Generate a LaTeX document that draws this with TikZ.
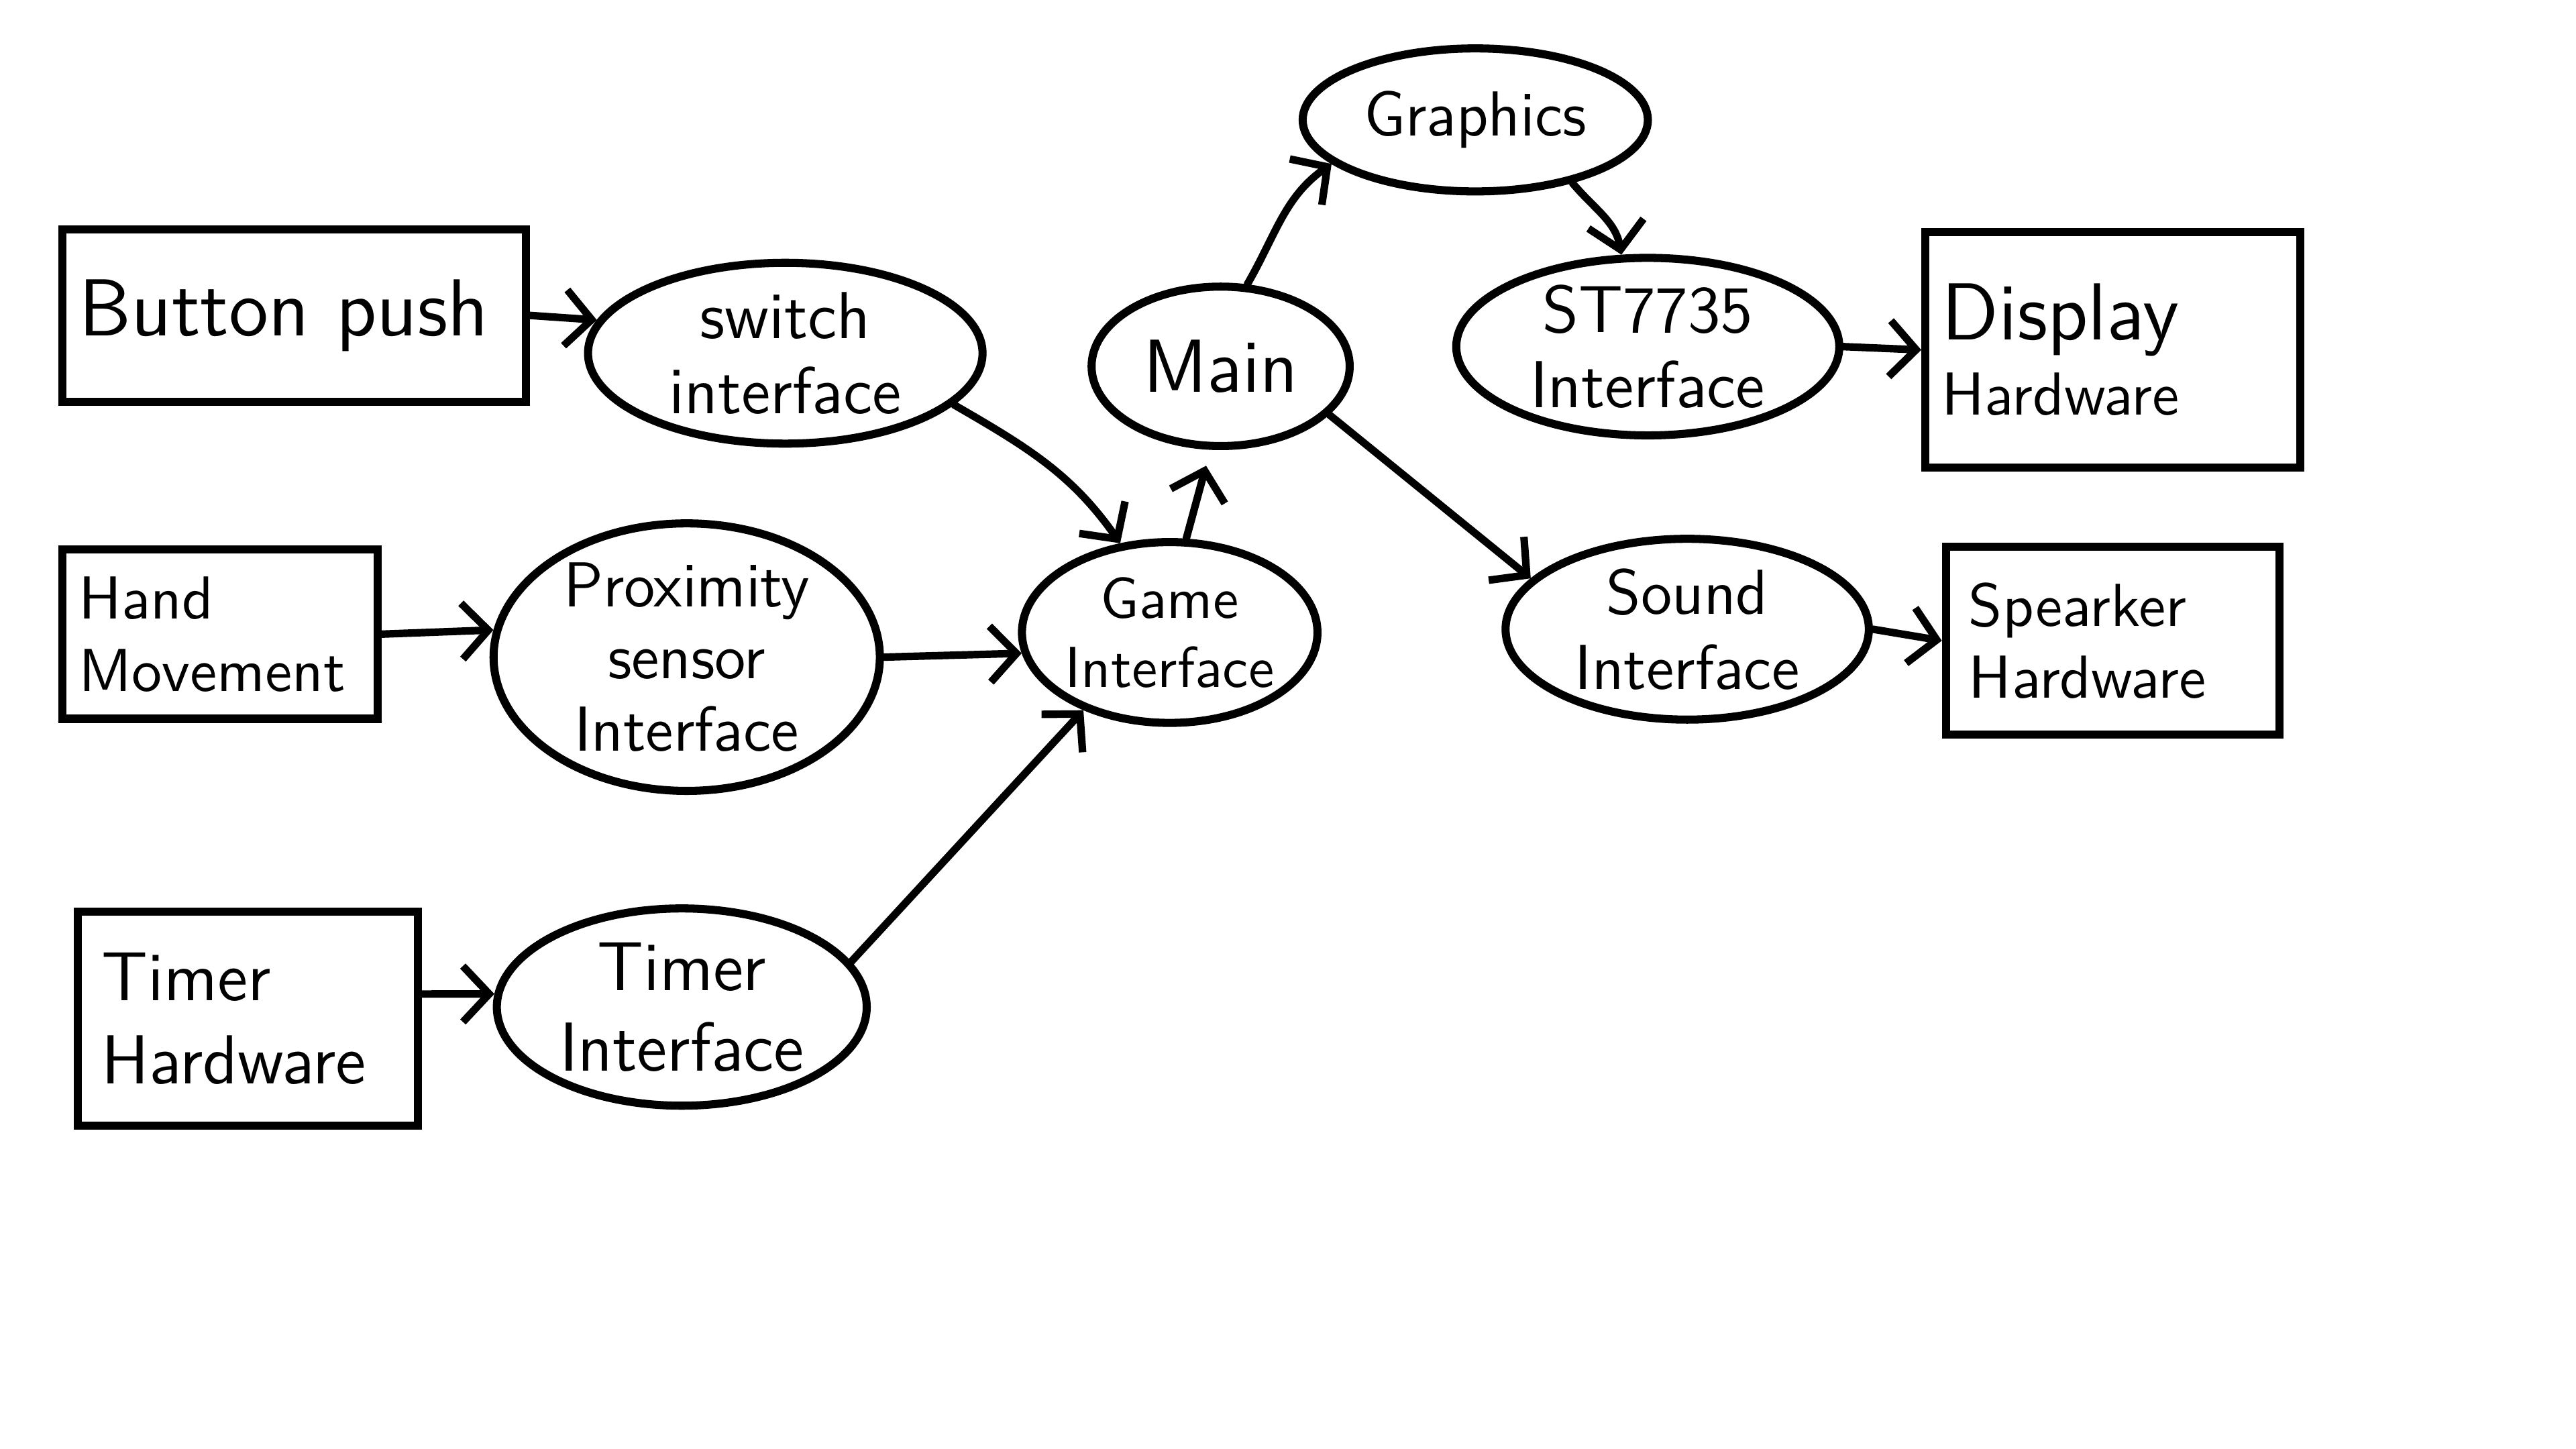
\documentclass[tikz,border=0pt]{standalone}
\usetikzlibrary{shapes.geometric,arrows.meta}
\begin{document}
\begin{tikzpicture}[x=0.01cm,y=-0.01cm,
  every node/.style={font=\sffamily, align=center},
  box/.style={draw, line width=1.4pt, rectangle, inner sep=0pt, align=left},
  oval/.style={draw, line width=1.4pt, ellipse, inner sep=0pt},
  conn/.style={line width=1.3pt, -{Straight Barb[length=1.6mm,width=3.4mm]}, line cap=round}
]
\useasboundingbox (0,0) rectangle (1568,882);
\fill[white] (0,0) rectangle (1568,882);

% left boxes
\node[box, minimum width=2.82cm, minimum height=1.05cm, text width=2.62cm, font=\sffamily\fontsize{14}{16}\selectfont] (btn) at (179,192) {Button push};
\node[box, minimum width=1.92cm, minimum height=1.03cm, text width=1.72cm, font=\sffamily\fontsize{10.5}{12.5}\selectfont] (hand) at (134,386) {Hand\\Movement};
\node[box, minimum width=2.07cm, minimum height=1.30cm, text width=1.78cm, font=\sffamily\fontsize{12}{14.5}\selectfont] (th) at (151,620) {Timer\\Hardware};

% interfaces
\node[oval, minimum width=2.40cm, minimum height=1.10cm, font=\sffamily\fontsize{11.5}{13}\selectfont] (sw) at (478,215) {switch\\interface};
\node[oval, minimum width=2.35cm, minimum height=1.33cm, font=\sffamily\fontsize{11}{12.5}\selectfont] (prox) at (418,400) {Proximity\\sensor\\Interface};
\node[oval, minimum width=2.25cm, minimum height=1.20cm, font=\sffamily\fontsize{12}{14}\selectfont] (ti) at (415,613) {Timer\\Interface};

\node[oval, minimum width=1.70cm, minimum height=1.10cm, font=\sffamily\fontsize{10}{12}\selectfont] (game) at (712,385) {Game\\Interface};
\node[oval, minimum width=1.57cm, minimum height=0.97cm, font=\sffamily\fontsize{13}{15}\selectfont] (main) at (743,223) {Main};

\node[oval, minimum width=2.10cm, minimum height=0.87cm, font=\sffamily\fontsize{11}{13}\selectfont] (gr) at (898,73) {Graphics};
\node[oval, minimum width=2.33cm, minimum height=1.08cm, font=\sffamily\fontsize{11.5}{13}\selectfont] (st) at (1003,211) {ST7735\\Interface};
\node[oval, minimum width=2.21cm, minimum height=1.10cm, font=\sffamily\fontsize{11}{13}\selectfont] (snd) at (1027,383) {Sound\\Interface};

% right boxes
\node[box, minimum width=2.28cm, minimum height=1.43cm, text width=2.08cm] (disp) at (1286,213) {{\fontsize{14}{16}\selectfont Display}\\[1pt]{\fontsize{10.5}{12}\selectfont Hardware}};
\node[box, minimum width=2.03cm, minimum height=1.14cm, text width=1.75cm, font=\sffamily\fontsize{10.5}{12.5}\selectfont] (spk) at (1286,390) {Spearker\\Hardware};

% connectors
\draw[conn] (btn.east) -- (sw.170);
\draw[conn] (sw.-17) to[out=-30,in=125] (game.119);
\draw[conn] (hand.east) -- (prox.172);
\draw[conn] (prox.east) -- (game.188);
\draw[conn] (th.8) -- (ti.176);
\draw[conn] (ti.15) -- (game.222);
\draw[conn, shorten >=0.1cm] (game.80) -- (main.-97);
\draw[conn] (main.72) to[out=60,in=215] (gr.197);
\draw[conn] (gr.-33) to[out=-50,in=100] (st.106);
\draw[conn] (st.east) -- (disp.west);
\draw[conn] (main.-24) -- (snd.162);
\draw[conn] (snd.east) -- (spk.west);
\end{tikzpicture}
\end{document}
